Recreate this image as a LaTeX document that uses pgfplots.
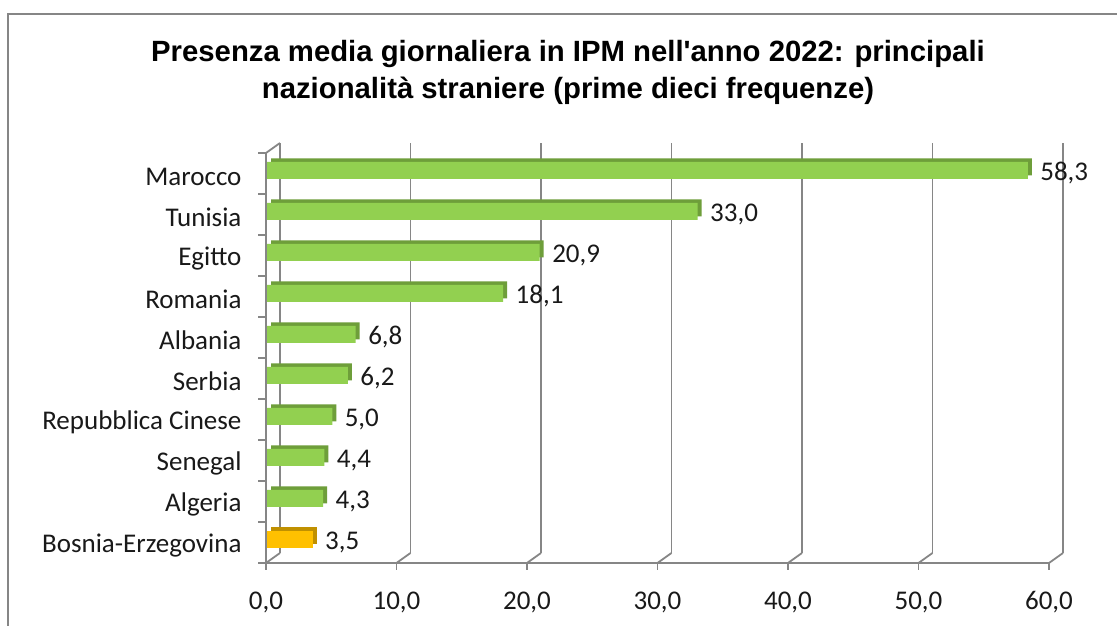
\documentclass[border=0pt]{standalone}
\usepackage{pgfplots}
\pgfplotsset{compat=1.18}
\usepackage{fontspec}
\setmainfont{Carlito}
\newfontfamily\titlefont{Liberation Sans}
\definecolor{gridgray}{HTML}{868686}
\definecolor{barg}{HTML}{92D050}
\definecolor{bargd}{HTML}{6E9E3A}
\definecolor{baro}{HTML}{FFC000}
\definecolor{barod}{HTML}{C09000}
\begin{document}
\begin{tikzpicture}[x=1pt,y=1pt]
\useasboundingbox (0,0) rectangle (1117,626);
\fill[white] (0,0) rectangle (1117,626);
\draw[gridgray, line width=2pt] (8,-10) -- (8,612) -- (1130,612);
\node[font=\titlefont\bfseries\fontsize{29.3}{37}\selectfont, align=center] at (568,553.5)
  {Presenza media giornaliera in IPM nell'anno 2022: principali\\nazionalità straniere (prime dieci frequenze)};
\begin{axis}[
  at={(266pt,63pt)}, anchor=south west, scale only axis,
  width=783pt, height=410pt,
  xmin=0, xmax=60, ymin=-0.5, ymax=9.5,
  axis x line*=bottom, axis y line*=left,
  x axis line style={-}, y axis line style={-},
  axis line style={gridgray, line width=1.8pt},
  tick align=outside, major tick length=7pt,
  xtick={0,10,...,60},
  x tick style={gridgray, line width=1.8pt},
  ytick={0,...,9},
  y tick style={draw=none},
  yticklabels={Bosnia-Erzegovina,Algeria,Senegal,Repubblica Cinese,Serbia,Albania,Romania,Egitto,Tunisia,Marocco},
  xmajorgrids,
  major grid style={gridgray, line width=1.8pt, xshift=14pt, yshift=10pt},
  /pgf/number format/.cd, use comma, fixed, fixed zerofill, precision=1, assume math mode=true,
  /pgfplots/.cd,
  ticklabel style={font=\fontsize{27}{30}\selectfont, text=black!90},
  yticklabel style={xshift=-14pt, yshift=-3pt},
  xticklabel style={yshift=-18pt},
  clip=false,
]
\pgfplotsinvokeforeach{0,10,...,60}{\draw[gridgray, line width=1.8pt] (axis cs:#1,-0.5) -- ++(14pt,10pt);}
\draw[gridgray, line width=1.8pt] (axis cs:0,9.5) -- ++(14pt,10pt);
\pgfplotsinvokeforeach{-0.5,0.5,...,9.5}{\draw[gridgray, line width=1.8pt] (axis cs:0,#1) -- ++(-8pt,0pt);}
% depth faces
\addplot[xbar, bar width=17pt, bar shift=0pt, fill=bargd, draw=none, xshift=5pt, yshift=6.5pt]
  coordinates {(58.3,9) (33.0,8) (20.9,7) (18.1,6) (6.8,5) (6.2,4) (5.0,3) (4.4,2) (4.3,1)};
\addplot[xbar, bar width=17pt, bar shift=0pt, fill=barod, draw=none, xshift=5pt, yshift=6.5pt]
  coordinates {(3.5,0)};
% front faces
\addplot[xbar, bar width=17pt, bar shift=0pt, fill=barg, draw=none, xshift=1pt, yshift=3pt,
  nodes near coords, nodes near coords style={anchor=west, xshift=9pt, yshift=-3pt, font=\fontsize{27}{30}\selectfont, text=black!90}]
  coordinates {(58.3,9) (33.0,8) (20.9,7) (18.1,6) (6.8,5) (6.2,4) (5.0,3) (4.4,2) (4.3,1)};
\addplot[xbar, bar width=17pt, bar shift=0pt, fill=baro, draw=none, xshift=1pt, yshift=3pt,
  nodes near coords, nodes near coords style={anchor=west, xshift=9pt, yshift=-3pt, font=\fontsize{27}{30}\selectfont, text=black!90}]
  coordinates {(3.5,0)};
\end{axis}
\end{tikzpicture}
\end{document}
